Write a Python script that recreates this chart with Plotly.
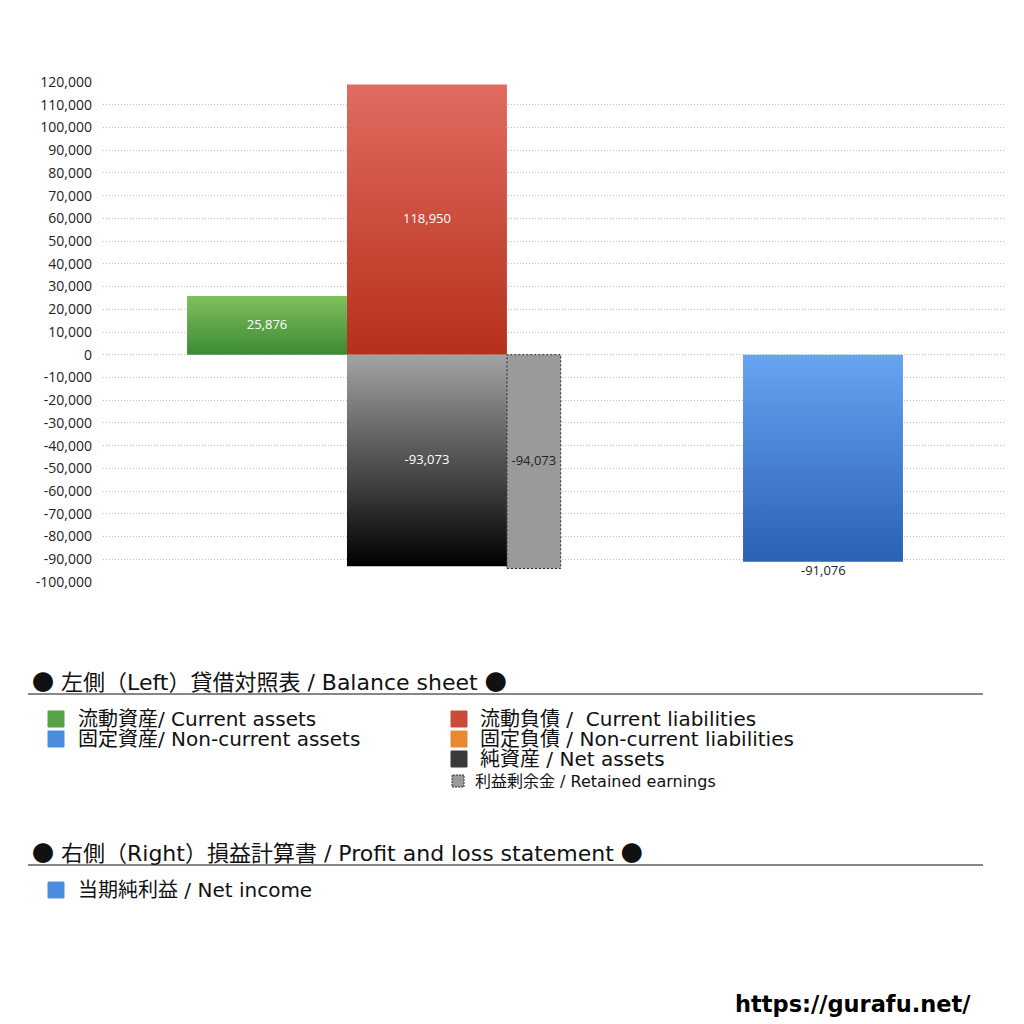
import plotly.graph_objects as go

# ---------------- data ----------------
groups = ["左側 貸借対照表", "右側 損益計算書"]
current_assets = 25876
current_liabilities = 118950
net_assets = -93073
retained_earnings = -94073
net_income = -91076
y_ticks = list(range(-100000, 120001, 10000))
y_tick_labels = [f"{v:,}" for v in y_ticks]

# ---------------- layout helpers ----------------
OFF = 8                      # page body margin in the browser
W, H = 1024 - OFF, 1024 - OFF
PLOT_X0, PLOT_X1, PLOT_Y0, PLOT_Y1 = 103, 1006, 82, 582   # reference pixels
L, R = PLOT_X0 - OFF, W - (PLOT_X1 - OFF)
T, B = PLOT_Y0 - OFF, H - (PLOT_Y1 - OFF)
PW, PH = PLOT_X1 - PLOT_X0, PLOT_Y1 - PLOT_Y0


def px(x):
    return (x - PLOT_X0) / PW


def py(y):
    return (PLOT_Y1 - y) / PH


BAR_W = 0.336
RET_W = 0.113
g_left, g_right = 0, 1

fig = go.Figure()


def grad_bar(x0, x1, val, top_c, bot_c, name):
    lo, hi = min(0, val), max(0, val)
    fig.add_trace(go.Scatter(
        x=[x0, x1, x1, x0, x0], y=[lo, lo, hi, hi, lo],
        mode="lines", line=dict(width=0), fill="toself",
        fillgradient=dict(type="vertical", start=hi, stop=lo,
                          colorscale=[[0, top_c], [1, bot_c]]),
        hoverinfo="skip", showlegend=False, name=name))


grad_bar(g_left - BAR_W, g_left, current_assets, "#80c05c", "#3b8a36", "流動資産")
grad_bar(g_left, g_left + BAR_W, current_liabilities, "#e06b60", "#b6301b", "流動負債")
grad_bar(g_left, g_left + BAR_W, net_assets, "#a3a3a3", "#000000", "純資産")
# retained earnings (dotted border)
fig.add_trace(go.Scatter(
    x=[g_left + BAR_W, g_left + BAR_W + RET_W, g_left + BAR_W + RET_W, g_left + BAR_W, g_left + BAR_W],
    y=[retained_earnings, retained_earnings, 0, 0, retained_earnings],
    mode="lines", line=dict(width=1, color="#222", dash="2px,2px"), fill="toself",
    fillcolor="#9a9a9a", hoverinfo="skip", showlegend=False))
grad_bar(g_right - BAR_W / 2, g_right + BAR_W / 2, net_income, "#67a4f0", "#2a60b6", "当期純利益")

# value labels
lab_font = dict(family="Open Sans, Noto Sans CJK JP", size=13)
fig.add_trace(go.Scatter(
    x=[g_left - BAR_W / 2, g_left + BAR_W / 2, g_left + BAR_W / 2],
    y=[current_assets / 2, current_liabilities / 2, net_assets / 2],
    text=[f"{current_assets:,}", f"{current_liabilities:,}", f"{net_assets:,}"],
    mode="text", textfont=dict(color="white", **lab_font),
    hoverinfo="skip", showlegend=False))
fig.add_trace(go.Scatter(
    x=[g_left + BAR_W + RET_W / 2], y=[retained_earnings / 2],
    text=[f"{retained_earnings:,}"], mode="text",
    textfont=dict(color="#222", **lab_font), hoverinfo="skip", showlegend=False))
fig.add_annotation(
    x=g_right, y=net_income, xref="x", yref="y", text=f"{net_income:,}",
    showarrow=False, yanchor="top", yshift=3,
    font=dict(color="#222", **lab_font))

# x range so that bars land where they do in the reference
unit = 476.0
x_lo = (PLOT_X0 - 347) / unit
x_hi = (PLOT_X1 - 347) / unit

fig.update_layout(
    width=W, height=H,
    margin=dict(l=L, r=R, t=T, b=B),
    paper_bgcolor="white", plot_bgcolor="white",
    xaxis=dict(range=[x_lo, x_hi], showgrid=False, zeroline=False,
               showticklabels=False, showline=False, fixedrange=True),
    yaxis=dict(range=[-100000, 120000], tickvals=y_ticks, ticktext=y_tick_labels,
               showgrid=True, gridcolor="#bdbdbd", griddash="1px,2px", gridwidth=1,
               zeroline=False, showline=False, ticklabelstandoff=10,
               tickfont=dict(family="Open Sans, Noto Sans CJK JP", size=14, color="#222")),
    showlegend=False,
)

# ---------------- custom legend ----------------
ann = list(fig.layout.annotations)
shapes = []
font_mix = "DejaVu Sans, Noto Sans CJK JP"
DOT = '<span style="font-family:Noto Sans CJK JP">●</span>'


def text(x, y, s, size, color="#111", bold=False, family=font_mix):
    ann.append(dict(xref="paper", yref="paper", x=px(x), y=py(y), text=(f"<b>{s}</b>" if bold else s),
                    showarrow=False, xanchor="left", yanchor="middle", borderpad=0,
                    font=dict(family=family, size=size, color=color)))


def square(x0, y0, x1, y1, color, dotted=False):
    shapes.append(dict(type="rect", xref="paper", yref="paper",
                       x0=px(x0), x1=px(x1), y0=py(y1), y1=py(y0),
                       fillcolor=color,
                       line=dict(color="#333" if dotted else color, width=1,
                                 dash="2px,1px" if dotted else "solid")))


def hline(y):
    shapes.append(dict(type="line", xref="paper", yref="paper",
                       x0=px(28), x1=px(983), y0=py(y), y1=py(y),
                       line=dict(color="#111", width=1)))


text(31, 680, f"{DOT} 左側（Left）貸借対照表 / Balance sheet {DOT}", 22)
hline(694)
square(48, 711, 64, 727, "#57a244")
text(77, 719, "流動資産/ Current assets", 20)
square(48, 731, 64, 747, "#4a8de0")
text(77, 739, "固定資産/ Non-current assets", 20)
square(451, 711, 467, 727, "#cc4a3a")
text(479, 719, "流動負債 /  Current liabilities", 20)
square(451, 731, 467, 747, "#e8892f")
text(479, 739, "固定負債 / Non-current liabilities", 20)
square(451, 751, 467, 767, "#3a3a3a")
text(479, 759, "純資産 / Net assets", 20)
square(452, 775, 464, 787, "#9a9a9a", dotted=True)
text(474, 781, "利益剰余金 / Retained earnings", 16)

text(31, 851, f"{DOT} 右側（Right）損益計算書 / Profit and loss statement {DOT}", 22)
hline(865)
square(48, 882, 64, 898, "#4a8de0")
text(77, 890, "当期純利益 / Net income", 20)

text(734, 1004, "https://gurafu.net/", 22.5, color="#000", bold=True, family="DejaVu Sans")

fig.update_layout(annotations=ann, shapes=shapes)
fig.write_html("out.html")
